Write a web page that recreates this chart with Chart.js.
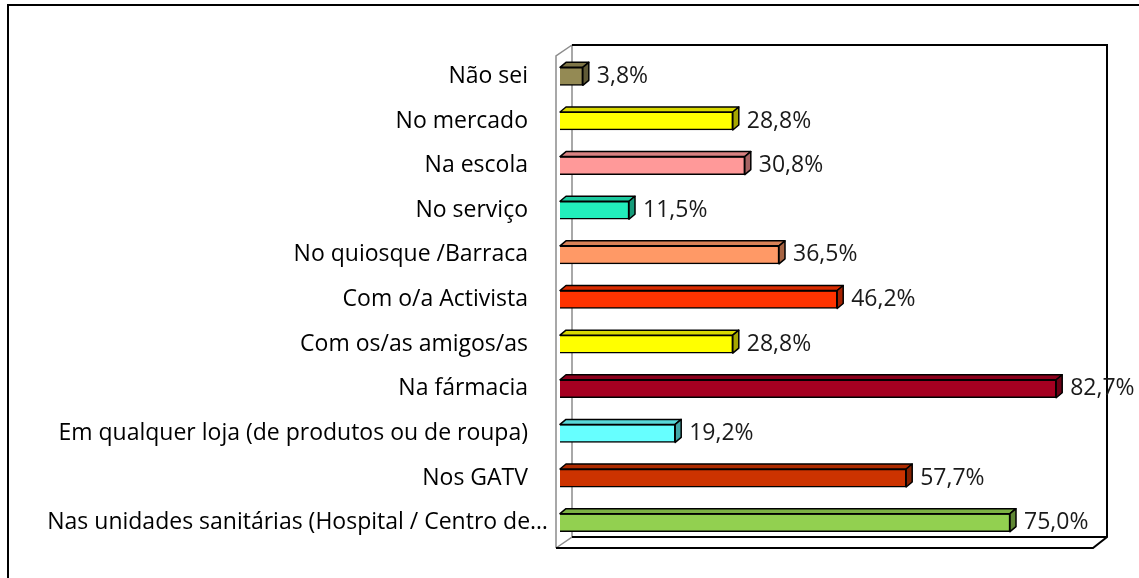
<!DOCTYPE html>
<html>
<head>
<meta charset="utf-8">
<script src="https://cdn.jsdelivr.net/npm/chart.js@4.4.1/dist/chart.umd.min.js"></script>
<style>
  html, body { margin: 0; padding: 0; background: #fff; }
  #wrap { width: 1139px; height: 578px; }
</style>
</head>
<body>
<div id="wrap"><canvas id="myChart" width="1139" height="578"></canvas></div>
<script>
// categories, top to bottom
const categories = [
  "Não sei",
  "No mercado",
  "Na escola",
  "No serviço",
  "No quiosque /Barraca",
  "Com o/a Activista",
  "Com os/as amigos/as",
  "Na fármacia",
  "Em qualquer loja (de produtos ou de roupa)",
  "Nos GATV",
  "Nas unidades sanitárias (Hospital / Centro de…"
];
const values = [3.8, 28.8, 30.8, 11.5, 36.5, 46.2, 28.8, 82.7, 19.2, 57.7, 75.0];
const barColors = [
  "#948a54", "#ffff00", "#ff9999", "#22eebb", "#ff9966", "#ff3300",
  "#ffff00", "#a50021", "#66ffff", "#cc3300", "#92d050"
];

const DX = 6, DY = -5;
const FONT = "23px 'Open Sans'";

function shade(hex, f) {
  let n = parseInt(hex.slice(1), 16);
  let r = Math.round(((n >> 16) & 255) * f);
  let g = Math.round(((n >> 8) & 255) * f);
  let b = Math.round((n & 255) * f);
  return "rgb(" + r + "," + g + "," + b + ")";
}

// outer border, 3d frame, category labels, bar faces and value labels
const framePlugin = {
  id: "frame",
  beforeDatasetsDraw(chart) {
    const ctx = chart.ctx, a = chart.chartArea;
    ctx.save();
    // outer border (only top/left visible)
    ctx.strokeStyle = "#000";
    ctx.lineWidth = 2;
    ctx.beginPath();
    ctx.moveTo(8, 578);
    ctx.lineTo(8, 5);
    ctx.lineTo(1139, 5);
    ctx.stroke();

    const fl = a.left - 4, bl = a.left + 12;
    const br = a.right + 7, fr = a.right - 7;
    const bt = a.top - 9, ft = a.top + 2;
    const fb = a.bottom + 3, bb = a.bottom - 8;

    // left side wall (grey)
    ctx.strokeStyle = "#8c8c8c";
    ctx.lineWidth = 1.5;
    ctx.beginPath();
    ctx.moveTo(fl, fb); ctx.lineTo(fl, ft); ctx.lineTo(bl, bt);
    ctx.moveTo(bl, bt); ctx.lineTo(bl, bb); ctx.lineTo(fl, fb);
    ctx.stroke();

    // back wall + floor (black)
    ctx.strokeStyle = "#000";
    ctx.lineWidth = 2;
    ctx.beginPath();
    ctx.moveTo(bl, bt); ctx.lineTo(br, bt); ctx.lineTo(br, bb);
    ctx.lineTo(fr, fb); ctx.lineTo(fl, fb);
    ctx.moveTo(bl, bb); ctx.lineTo(br, bb);
    ctx.stroke();

    // category labels, right aligned; the truncated one runs past into the wall
    const ys = chart.scales.y;
    ctx.fillStyle = "#000";
    ctx.font = FONT;
    ctx.textAlign = "right";
    ctx.textBaseline = "middle";
    categories.forEach((c, i) => {
      let x = a.left - 32;
      if (ctx.measureText(c).width > 490) x = a.left - 12;
      ctx.fillText(c, x, ys.getPixelForValue(i));
    });
    ctx.restore();
  },
  afterDatasetsDraw(chart) {
    const ctx = chart.ctx;
    const meta = chart.getDatasetMeta(0);
    ctx.save();
    ctx.strokeStyle = "#000";
    ctx.lineWidth = 1.5;
    ctx.lineJoin = "round";
    meta.data.forEach((bar, i) => {
      const top = bar.y - bar.height / 2, bot = bar.y + bar.height / 2;
      const x0 = bar.base, x1 = bar.x;
      // top face
      ctx.fillStyle = shade(barColors[i], 0.85);
      ctx.beginPath();
      ctx.moveTo(x0, top); ctx.lineTo(x0 + DX, top + DY);
      ctx.lineTo(x1 + DX, top + DY); ctx.lineTo(x1, top);
      ctx.closePath(); ctx.fill(); ctx.stroke();
      // side face
      ctx.fillStyle = shade(barColors[i], 0.65);
      ctx.beginPath();
      ctx.moveTo(x1, top); ctx.lineTo(x1 + DX, top + DY);
      ctx.lineTo(x1 + DX, bot + DY); ctx.lineTo(x1, bot);
      ctx.closePath(); ctx.fill(); ctx.stroke();
      // value label
      ctx.fillStyle = "#1a1a1a";
      ctx.font = FONT;
      ctx.textAlign = "left";
      ctx.textBaseline = "middle";
      ctx.fillText(values[i].toFixed(1).replace(".", ",") + "%", x1 + DX + 8, bar.y);
    });
    ctx.restore();
  }
};

const ctx = document.getElementById("myChart");
new Chart(ctx, {
  type: "bar",
  data: {
    labels: categories,
    datasets: [{
      data: values,
      backgroundColor: barColors,
      borderColor: "#000",
      borderWidth: 1.5,
      barThickness: 18
    }]
  },
  options: {
    indexAxis: "y",
    responsive: false,
    animation: false,
    devicePixelRatio: 1,
    layout: { padding: { left: 8, right: 39, top: 54, bottom: 33 } },
    plugins: { legend: { display: false }, tooltip: { enabled: false } },
    scales: {
      x: { min: 0, max: 90, display: false },
      y: {
        offset: true,
        grid: { display: false, drawTicks: false },
        border: { display: false },
        ticks: { display: false },
        afterFit(axis) { axis.width = 552; }
      }
    }
  },
  plugins: [framePlugin]
});
</script>
</body>
</html>
